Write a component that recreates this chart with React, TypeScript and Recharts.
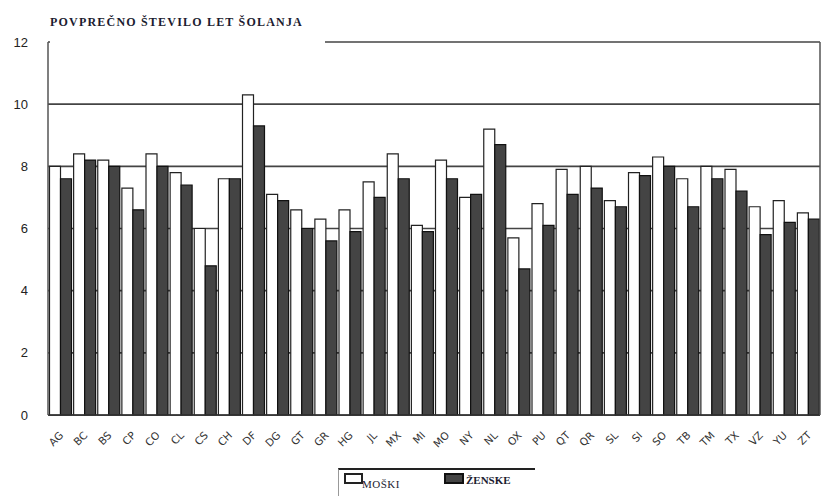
import { BarChart, Bar, XAxis, YAxis, CartesianGrid } from "recharts";

const categories = [
  "AG", "BC", "BS", "CP", "CO", "CL", "CS", "CH", "DF", "DG", "GT", "GR", "HG", "JL", "MX", "MI",
  "MO", "NY", "NL", "OX", "PU", "QT", "QR", "SL", "SI", "SO", "TB", "TM", "TX", "VZ", "YU", "ZT",
];
const moski = [
  8.0, 8.4, 8.2, 7.3, 8.4, 7.8, 6.0, 7.6, 10.3, 7.1, 6.6, 6.3, 6.6, 7.5, 8.4, 6.1,
  8.2, 7.0, 9.2, 5.7, 6.8, 7.9, 8.0, 6.9, 7.8, 8.3, 7.6, 8.0, 7.9, 6.7, 6.9, 6.5,
];
const zenske = [
  7.6, 8.2, 8.0, 6.6, 8.0, 7.4, 4.8, 7.6, 9.3, 6.9, 6.0, 5.6, 5.9, 7.0, 7.6, 5.9,
  7.6, 7.1, 8.7, 4.7, 6.1, 7.1, 7.3, 6.7, 7.7, 8.0, 6.7, 7.6, 7.2, 5.8, 6.2, 6.3,
];
const yTicks = [0, 2, 4, 6, 8, 10, 12];

const data = categories.map((name, i) => ({ name, moski: moski[i], zenske: zenske[i] }));

const serif = "'Liberation Serif', 'DejaVu Serif', serif";

const renderXTick = (props: any) => {
  const { x, y, payload } = props;
  const tx = x + 4;
  const ty = y + 13;
  return (
    <text
      key={payload.value}
      x={tx}
      y={ty}
      transform={`rotate(-45, ${tx}, ${ty})`}
      textAnchor="end"
      fontSize={10.5}
      fontFamily="'DejaVu Sans', sans-serif"
      fill="#333"
    >
      {payload.value}
    </text>
  );
};

function LegendBox() {
  return (
    <div
      style={{
        position: "absolute",
        left: 338,
        top: 468,
        width: 196,
        height: 30,
        borderTop: "2px solid #222",
        borderLeft: "1px solid #999",
      }}
    >
      <div style={{ position: "absolute", left: 5, top: 3, width: 15, height: 7, border: "2px solid #222", background: "#fff" }} />
      <span style={{ position: "absolute", left: 23, top: 8, fontFamily: serif, fontSize: 11, color: "#1c1c30", letterSpacing: 0.5 }}>
        MOŠKI
      </span>
      <div style={{ position: "absolute", left: 105, top: 3, width: 16, height: 7, border: "2px solid #111", background: "#444" }} />
      <span style={{ position: "absolute", left: 127, top: 4, fontFamily: serif, fontSize: 11, fontWeight: "bold", color: "#1c1c30" }}>
        ŽENSKE
      </span>
    </div>
  );
}

export default function App() {
  return (
    <div style={{ position: "absolute", left: 0, top: 0, width: 821, height: 496, background: "#fff" }}>
      <BarChart
        width={821}
        height={496}
        data={data}
        margin={{ top: 42, right: 0, left: 0, bottom: 41 }}
        barCategoryGap={1.5}
        barGap={0}
      >
        <CartesianGrid vertical={false} stroke="#444" strokeWidth={1.6} />
        <XAxis
          dataKey="name"
          height={40}
          interval={0}
          tickLine={false}
          axisLine={{ stroke: "#333", strokeWidth: 1.5 }}
          tick={renderXTick}
        />
        <YAxis
          domain={[0, 12]}
          ticks={yTicks}
          width={48}
          tickLine={false}
          tickMargin={14}
          axisLine={{ stroke: "#555", strokeWidth: 1.5 }}
          tick={{ fontSize: 13, fill: "#222", fontFamily: "'Liberation Sans', Arial, sans-serif" }}
        />
        <YAxis
          yAxisId="r"
          orientation="right"
          width={1}
          tick={false}
          tickLine={false}
          axisLine={{ stroke: "#555", strokeWidth: 1.5 }}
        />
        <Bar dataKey="moski" name="MOŠKI" fill="#fff" stroke="#222" strokeWidth={1.2} isAnimationActive={false} />
        <Bar dataKey="zenske" name="ŽENSKE" fill="#444" stroke="#111" strokeWidth={1.2} isAnimationActive={false} />
      </BarChart>
      <LegendBox />
      <div
        style={{
          position: "absolute",
          left: 50,
          top: 8,
          width: 275,
          height: 37,
          background: "#fff",
          fontFamily: serif,
          fontWeight: "bold",
          fontSize: 12,
          letterSpacing: 1.2,
          color: "#1c1c30",
          lineHeight: "16px",
          paddingTop: 6,
          boxSizing: "border-box",
          whiteSpace: "nowrap",
        }}
      >
        POVPREČNO ŠTEVILO LET ŠOLANJA
      </div>
    </div>
  );
}
